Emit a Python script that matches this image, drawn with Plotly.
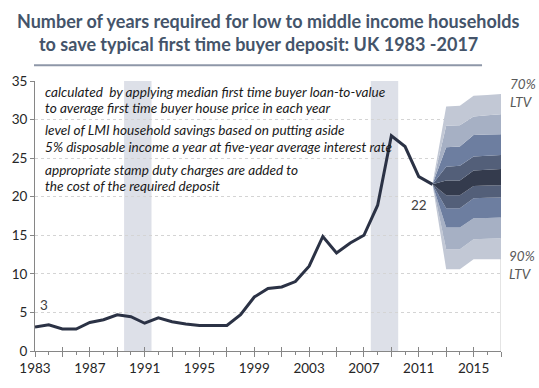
import plotly.graph_objects as go

years = list(range(1983, 2013))
years_needed = [3.1, 3.4, 2.85, 2.85, 3.7, 4.05, 4.7, 4.45, 3.6, 4.3,
                3.8, 3.5, 3.3, 3.3, 3.3, 4.7, 7.0, 8.1, 8.3, 9.0,
                11.0, 14.85, 12.7, 14.0, 15.0, 18.9, 27.9, 26.5, 22.6, 21.6]

fan_years = [2012, 2013, 2014, 2015, 2016, 2017]
# fan boundaries, bottom (90% LTV) to top (70% LTV)
fan_bounds = [
    [21.6, 10.6, 10.6, 11.9, 11.9, 11.9],
    [21.6, 13.2, 13.2, 14.5, 14.55, 14.6],
    [21.6, 16.0, 16.0, 17.2, 17.25, 17.3],
    [21.6, 18.5, 18.5, 19.8, 19.85, 19.9],
    [21.6, 20.2, 20.2, 21.4, 21.45, 21.5],
    [21.6, 22.1, 22.1, 23.4, 23.5, 23.6],
    [21.6, 23.9, 24.0, 25.2, 25.3, 25.4],
    [21.6, 26.4, 26.5, 28.0, 28.05, 28.1],
    [21.6, 29.2, 29.25, 30.4, 30.55, 30.7],
    [21.6, 31.7, 31.8, 33.1, 33.2, 33.3],
]
fan_colors = ["#c2c8d5", "#a6b0c4", "#6d7ea0", "#535f79", "#343b4d",
              "#535f79", "#6d7ea0", "#a6b0c4", "#c2c8d5"]

recessions = [(1989.5, 1991.5), (2007.5, 2009.5)]

label_years = [1983, 1987, 1991, 1995, 1999, 2003, 2007, 2011, 2015]
major_years = list(range(1983, 2018, 2))
minor_years = list(range(1984, 2017, 2))

note_lines = [
    "calculated  by applying median first time buyer loan-to-value",
    "to average first time buyer house price in each year",
    "level of LMI household savings based on putting aside",
    "5% disposable income a year at five-year average interest rate",
    "appropriate stamp duty charges are added to",
    "the cost of the required deposit",
]

FONT = "Lato"
W, H = 539, 388
L, R, T, B = 34, 38, 81, 33
pw, ph = W - L - R, H - T - B


def px(x):
    return (x - L) / pw


def py(y):
    return (H - B - y) / ph


fig = go.Figure()

# fan
fig.add_trace(go.Scatter(x=fan_years, y=fan_bounds[0], mode="lines",
                         line=dict(width=0), showlegend=False, hoverinfo="skip"))
for i in range(1, len(fan_bounds)):
    fig.add_trace(go.Scatter(x=fan_years, y=fan_bounds[i], mode="lines",
                             line=dict(width=0), fill="tonexty",
                             fillcolor=fan_colors[i - 1], showlegend=False,
                             hoverinfo="skip"))

fig.add_trace(go.Scatter(x=years, y=years_needed, mode="lines",
                         line=dict(color="#2b3245", width=3), showlegend=False))

# invisible trace for overlay axis (inside part of crossing ticks)
fig.add_trace(go.Scatter(x=[1983], y=[0], xaxis="x2", mode="markers",
                         marker=dict(opacity=0), showlegend=False, hoverinfo="skip"))

for x0, x1 in recessions:
    fig.add_shape(type="rect", x0=x0, x1=x1, y0=0, y1=35, xref="x", yref="y",
                  fillcolor="#dde0e8", line=dict(width=0), layer="below")

# right edge line
fig.add_shape(type="line", x0=2017, x1=2017, y0=0, y1=33, xref="x", yref="y",
              line=dict(color="#c8c8c8", width=1), layer="below")

# title underline
fig.add_shape(type="line", x0=px(33), x1=px(482), y0=py(65), y1=py(65),
              xref="paper", yref="paper", line=dict(color="#8e97a8", width=2))

ticktext = [str(y) if y in label_years else "" for y in major_years]

fig.update_layout(
    width=W, height=H,
    margin=dict(l=L, r=R, t=T, b=B),
    paper_bgcolor="white", plot_bgcolor="white",
    font=dict(family=FONT, color="#404040", size=13),
    xaxis=dict(range=[1983, 2017], tickmode="array", tickvals=major_years,
               ticktext=ticktext, ticks="outside", ticklen=5, tickcolor="#868686",
               showline=True, linecolor="#868686", linewidth=1,
               showgrid=False, zeroline=False,
               tickfont=dict(size=13.5, color="#262626"),
               minor=dict(tickvals=minor_years, ticks="outside", ticklen=3,
                          tickcolor="#868686", showgrid=False)),
    xaxis2=dict(range=[1983, 2017], overlaying="x", anchor="y", tickmode="array",
                tickvals=major_years, ticktext=[""] * len(major_years),
                ticks="inside", ticklen=4, tickcolor="#868686",
                showline=False, showgrid=False, zeroline=False),
    yaxis=dict(range=[0, 35], tickvals=[0, 5, 10, 15, 20, 25, 30, 35],
               ticks="outside", ticklen=4, tickcolor="#868686",
               showline=True, linecolor="#868686", linewidth=1,
               showgrid=True, gridcolor="#d4d4d4", griddash="dot", gridwidth=1,
               zeroline=False, tickfont=dict(size=13.5, color="#262626")),
)

annos = []
annos.append(dict(x=px(268), y=py(20), text="<b>Number of years required for low to middle income households</b>"))
annos.append(dict(x=px(258), y=py(43), text="<b>to save typical first time buyer deposit: UK 1983 -2017</b>"))
for a in annos:
    a.update(xref="paper", yref="paper", showarrow=False, xanchor="center",
             yanchor="middle", font=dict(family=FONT, size=18, color="#44546a"))

note_y = [92, 108, 131, 148, 171, 188]
for txt, yy in zip(note_lines, note_y):
    annos.append(dict(x=px(42), y=py(yy), xref="paper", yref="paper", text="<i>" + txt + "</i>",
                      showarrow=False, xanchor="left", yanchor="middle",
                      font=dict(family=FONT, size=13.6, color="#1a1a1a")))

for txt, xx, yy in [("70%", 508, 84), ("LTV", 508, 102), ("90%", 507, 259), ("LTV", 507, 277)]:
    annos.append(dict(x=px(xx), y=py(yy), xref="paper", yref="paper", text="<i>" + txt + "</i>",
                      showarrow=False, xanchor="left", yanchor="middle",
                      font=dict(family=FONT, size=13.5, color="#595959")))

annos.append(dict(x=2011, y=18.9, xref="x", yref="y", text="22", showarrow=False,
                  font=dict(family=FONT, size=13.5, color="#404040")))
annos.append(dict(x=1983.65, y=6.0, xref="x", yref="y", text="3", showarrow=False,
                  font=dict(family=FONT, size=13.5, color="#404040")))

fig.update_layout(annotations=annos)

fig.write_html("out.html")
